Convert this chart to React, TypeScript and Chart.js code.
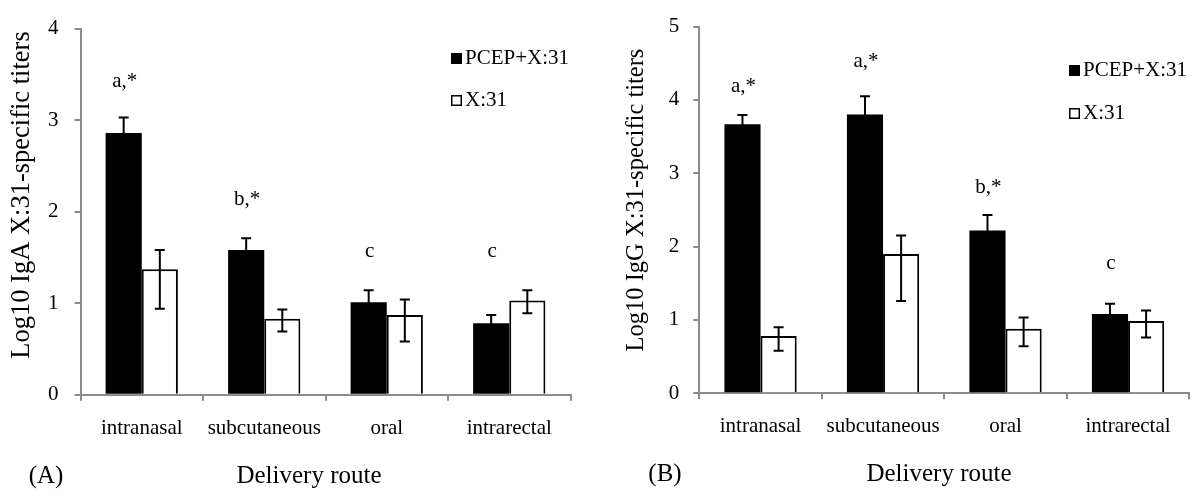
import React, { useEffect, useRef } from "react";
import { Chart, registerables } from "chart.js";

Chart.register(...registerables);

// ---------- data ----------
const categories = ["intranasal", "subcutaneous", "oral", "intrarectal"];
const seriesNames = ["PCEP+X:31", "X:31"];

// Panel A: IgA
const igaPcep = [2.86, 1.58, 1.01, 0.78];
const igaPcepErrUp = [0.17, 0.13, 0.13, 0.09];
const igaPcepErrDown = [0.17, 0.13, 0.13, 0.09];
const igaX31 = [1.37, 0.83, 0.87, 1.03];
const igaX31ErrUp = [0.21, 0.1, 0.17, 0.11];
const igaX31ErrDown = [0.43, 0.14, 0.29, 0.14];
const igaLetters = ["a,*", "b,*", "c", "c"];
const igaLetterY = [3.375, 2.09, 1.52, 1.52];
const igaMax = 4;

// Panel B: IgG
const iggPcep = [3.67, 3.8, 2.22, 1.08];
const iggPcepErrUp = [0.125, 0.25, 0.21, 0.14];
const iggPcepErrDown = [0.125, 0.25, 0.21, 0.14];
const iggX31 = [0.78, 1.9, 0.88, 0.985];
const iggX31ErrUp = [0.12, 0.25, 0.155, 0.145];
const iggX31ErrDown = [0.2, 0.64, 0.24, 0.225];
const iggLetters = ["a,*", "a,*", "b,*", "c"];
const iggLetterY = [4.13, 4.47, 2.75, 1.72];
const iggMax = 5;

const xTitle = "Delivery route";

const FONT = "'Liberation Serif', 'Times New Roman', serif";
const AXIS = "#8c8c8c";

type Panel = {
  pcep: number[];
  pcepUp: number[];
  pcepDown: number[];
  x31: number[];
  x31Up: number[];
  x31Down: number[];
  letters: string[];
  letterY: number[];
  max: number;
  yTitle: string;
  tag: string;
  left: number;
  top: number;
  right: number;
  bottom: number;
  yTitleX: number;
  yTitleY: number;
  yTitleSize: number;
  tickPad: number;
  legendX: number;
  legendY1: number;
  legendY2: number;
  tagX: number;
  tagY: number;
  xTitleX: number;
  xTitleY: number;
};

const panelA: Panel = {
  pcep: igaPcep,
  pcepUp: igaPcepErrUp,
  pcepDown: igaPcepErrDown,
  x31: igaX31,
  x31Up: igaX31ErrUp,
  x31Down: igaX31ErrDown,
  letters: igaLetters,
  letterY: igaLetterY,
  max: igaMax,
  yTitle: "Log10 IgA X:31-specific titers",
  tag: "(A)",
  left: 80.5,
  top: 21.7,
  right: 570.5,
  bottom: 394.7,
  yTitleX: 22,
  yTitleY: 195,
  yTitleSize: 26.5,
  tickPad: 16,
  legendX: 451,
  legendY1: 58.5,
  legendY2: 100.5,
  tagX: 46,
  tagY: 476,
  xTitleX: 309,
  xTitleY: 476,
};

const panelB: Panel = {
  pcep: iggPcep,
  pcepUp: iggPcepErrUp,
  pcepDown: iggPcepErrDown,
  x31: iggX31,
  x31Up: iggX31ErrUp,
  x31Down: iggX31ErrDown,
  letters: iggLetters,
  letterY: iggLetterY,
  max: iggMax,
  yTitle: "Log10 IgG X:31-specific titers",
  tag: "(B)",
  left: 99.3,
  top: 20,
  right: 589.3,
  bottom: 393.3,
  yTitleX: 37,
  yTitleY: 200,
  yTitleSize: 24.5,
  tickPad: 14,
  legendX: 469,
  legendY1: 70.5,
  legendY2: 113.5,
  tagX: 65,
  tagY: 474,
  xTitleX: 339,
  xTitleY: 474,
};

const W = 600;
const H = 503;

function ChartPanel({ p, offset }: { p: Panel; offset: number }) {
  const ref = useRef<HTMLCanvasElement | null>(null);

  useEffect(() => {
    if (!ref.current) return;

    const overlay = {
      id: "overlay",
      afterDatasetsDraw(chart: any) {
        const ctx = chart.ctx;
        const ys = chart.scales.y;
        const ups = [p.pcepUp, p.x31Up];
        const downs = [p.pcepDown, p.x31Down];
        ctx.save();
        ctx.strokeStyle = "#000";
        ctx.lineWidth = 2;
        [0, 1].forEach((di) => {
          const meta = chart.getDatasetMeta(di);
          const vals = chart.data.datasets[di].data as number[];
          meta.data.forEach((el: any, j: number) => {
            const v = vals[j];
            const yT = ys.getPixelForValue(v + ups[di][j]);
            const yB = ys.getPixelForValue(v - downs[di][j]);
            const x = el.x;
            ctx.beginPath();
            ctx.moveTo(x, yT);
            ctx.lineTo(x, yB);
            ctx.moveTo(x - 5, yT);
            ctx.lineTo(x + 5, yT);
            ctx.moveTo(x - 5, yB);
            ctx.lineTo(x + 5, yB);
            ctx.stroke();
          });
        });
        ctx.restore();
      },
      afterDraw(chart: any) {
        const ctx = chart.ctx;
        const ys = chart.scales.y;
        ctx.save();
        ctx.fillStyle = "#000";
        // significance letters
        ctx.font = `21px ${FONT}`;
        ctx.textAlign = "center";
        ctx.textBaseline = "middle";
        const m0 = chart.getDatasetMeta(0);
        p.letters.forEach((t, j) => {
          const el: any = m0.data[j];
          ctx.fillText(t, el.x + 1, ys.getPixelForValue(p.letterY[j]) - 4);
        });
        // legend
        ctx.textAlign = "left";
        ctx.fillRect(p.legendX, p.legendY1 - 5.5, 11, 11);
        ctx.fillText(seriesNames[0], p.legendX + 14, p.legendY1);
        ctx.lineWidth = 1.5;
        ctx.strokeStyle = "#000";
        ctx.strokeRect(p.legendX + 0.75, p.legendY2 - 5.5 + 0.75, 9.5, 9.5);
        ctx.fillText(seriesNames[1], p.legendX + 14, p.legendY2);
        // y title
        ctx.save();
        ctx.translate(p.yTitleX, p.yTitleY);
        ctx.rotate(-Math.PI / 2);
        ctx.textAlign = "center";
        ctx.font = `${p.yTitleSize}px ${FONT}`;
        ctx.fillText(p.yTitle, 0, 0);
        ctx.restore();
        // bottom texts
        ctx.textAlign = "center";
        ctx.font = `25px ${FONT}`;
        ctx.fillText(p.tag, p.tagX, p.tagY);
        ctx.fillText(xTitle, p.xTitleX, p.xTitleY);
        ctx.restore();
      },
    };

    const chart = new Chart(ref.current, {
      type: "bar",
      data: {
        labels: categories,
        datasets: [
          {
            label: seriesNames[0],
            data: p.pcep,
            backgroundColor: "#000",
            borderColor: "#000",
            borderWidth: 0,
          },
          {
            label: seriesNames[1],
            data: p.x31,
            backgroundColor: "#fff",
            borderColor: "#000",
            borderWidth: 2,
          },
        ],
      },
      options: {
        responsive: false,
        animation: false,
        events: [],
        layout: {
          padding: { top: p.top, right: W - p.right, left: 0, bottom: 0 },
        },
        datasets: {
          bar: { categoryPercentage: 0.59, barPercentage: 1 },
        },
        plugins: {
          legend: { display: false },
          tooltip: { enabled: false },
          title: { display: false },
        },
        scales: {
          x: {
            afterFit: (s: any) => {
              s.height = H - p.bottom;
            },
            border: { color: AXIS, width: 2 },
            grid: {
              display: true,
              drawOnChartArea: false,
              offset: true,
              tickLength: 6,
              color: AXIS,
              lineWidth: 2,
            },
            ticks: {
              color: "#000",
              font: { family: FONT, size: 21 },
              padding: 15,
              maxRotation: 0,
              autoSkip: false,
            },
          },
          y: {
            min: 0,
            max: p.max,
            afterFit: (s: any) => {
              s.width = p.left;
            },
            border: { color: AXIS, width: 2 },
            grid: {
              display: true,
              drawOnChartArea: false,
              tickLength: 6,
              color: AXIS,
              lineWidth: 2,
            },
            ticks: {
              stepSize: 1,
              color: "#000",
              font: { family: FONT, size: 21 },
              padding: p.tickPad,
            },
          },
        },
      },
      plugins: [overlay],
    });

    return () => chart.destroy();
  }, [p]);

  return (
    <div style={{ position: "absolute", left: offset, top: 0, width: W, height: H }}>
      <canvas ref={ref} width={W} height={H} style={{ display: "block" }} />
    </div>
  );
}

export default function App() {
  useEffect(() => {
    document.body.style.margin = "0";
    document.body.style.background = "#fff";
  }, []);
  return (
    <div style={{ position: "relative", width: 1200, height: H, background: "#fff", overflow: "hidden" }}>
      <ChartPanel p={panelA} offset={0} />
      <ChartPanel p={panelB} offset={600} />
    </div>
  );
}
